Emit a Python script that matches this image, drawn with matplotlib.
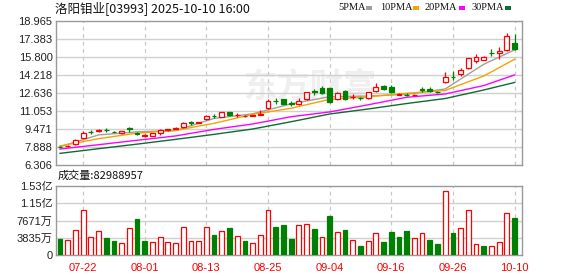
import matplotlib
matplotlib.use('Agg')
import matplotlib.pyplot as plt
from matplotlib.patches import Rectangle
import numpy as np

plt.rcParams['font.family'] = ['Liberation Sans', 'Noto Sans CJK SC', 'DejaVu Sans']

# ---------------- data ----------------
title = '洛阳钼业[03993] 2025-10-10 16:00'
vol_title = '成交量:82988957'
date_labels = ['07-22', '08-01', '08-13', '08-25', '09-04', '09-16', '09-26', '10-10']
date_index = [3, 11, 19, 27, 35, 43, 51, 59]

opens = [7.93, 7.96, 8.15, 8.71, 9.24, 9.27, 9.40, 9.24, 9.09, 9.52,
         9.14, 8.86, 8.88, 9.14, 9.35, 9.50, 9.62, 10.06, 10.02, 10.32,
         10.63, 10.55, 10.96, 10.68, 10.60, 10.60, 10.74, 11.29, 11.96, 12.08,
         11.75, 11.64, 12.11, 12.80, 13.05, 13.07, 12.11, 12.81, 12.30, 12.19,
         12.17, 12.78, 13.28, 13.19, 12.49, 12.50, 12.43, 12.95, 13.01, 12.76,
         13.63, 14.08, 14.28, 14.81, 15.42, 15.56, 16.15, 16.13, 16.42, 17.06]
closes = [7.90, 8.00, 8.50, 9.15, 9.20, 9.42, 9.36, 9.20, 9.30, 9.48,
          9.00, 8.90, 9.09, 9.41, 9.47, 9.53, 10.02, 10.03, 10.06, 10.64,
          10.60, 10.99, 10.67, 10.72, 10.64, 10.70, 10.80, 11.96, 11.90, 11.67,
          11.70, 11.96, 12.70, 12.75, 12.61, 11.87, 12.61, 12.08, 12.32, 12.17,
          12.70, 13.19, 12.96, 12.72, 12.53, 12.45, 12.48, 12.93, 12.78, 12.70,
          14.01, 14.04, 14.66, 15.69, 15.80, 15.80, 16.12, 16.35, 17.65, 16.47]
highs = [8.00, 8.05, 8.55, 9.27, 9.38, 9.45, 9.56, 9.27, 9.33, 9.65,
         9.23, 8.99, 9.12, 9.50, 9.50, 9.62, 10.08, 10.17, 10.10, 10.67,
         10.80, 11.00, 10.99, 10.90, 10.70, 10.72, 11.14, 12.10, 12.22, 12.10,
         11.93, 12.20, 12.75, 13.01, 13.25, 13.10, 12.70, 12.90, 12.55, 12.25,
         12.72, 13.49, 13.35, 13.35, 12.66, 12.60, 12.55, 13.16, 13.20, 12.80,
         14.51, 14.56, 14.86, 15.75, 16.04, 15.90, 16.48, 16.67, 17.94, 17.85]
lows = [7.85, 7.92, 8.10, 8.68, 9.06, 9.25, 9.23, 9.18, 9.06, 9.23,
        8.95, 8.74, 8.85, 8.94, 9.32, 9.45, 9.60, 9.78, 10.00, 10.30,
        10.44, 10.50, 10.64, 10.50, 10.55, 10.58, 10.70, 11.20, 11.67, 11.65,
        11.50, 11.60, 12.05, 12.49, 12.55, 11.80, 12.00, 12.00, 12.11, 12.05,
        12.10, 12.76, 12.90, 12.65, 12.44, 12.40, 12.35, 12.68, 12.70, 12.65,
        13.54, 13.80, 14.14, 14.75, 15.30, 15.50, 15.89, 15.60, 16.35, 16.40]

# volume in 万股 (last one is the exact value shown)
volumes = [3557, 3335, 5490, 9930, 3930, 5260, 3780, 3110, 2670, 5930,
           8000, 3110, 2890, 3930, 2890, 2670, 6150, 3110, 3110, 6150,
           4450, 5340, 6000, 4150, 3110, 2600, 4370, 9930, 6220, 6670,
           3560, 6600, 6820, 5780, 3930, 8670, 5110, 5560, 3260, 2000,
           3110, 4820, 2890, 5110, 3930, 5340, 3710, 4820, 3335, 2445,
           14160, 4890, 5930, 9930, 2380, 2000, 1930, 2820, 9270, 8298.8957]
# 1 = price up vs previous close (red), 0 = down (green)
vol_up = [0, 1, 1, 1, 1, 1, 0, 0, 1, 1,
          0, 0, 1, 1, 1, 1, 1, 1, 1, 1,
          0, 1, 0, 1, 0, 1, 1, 1, 0, 0,
          0, 1, 1, 0, 1, 0, 1, 0, 1, 0,
          1, 1, 0, 0, 0, 0, 1, 1, 0, 0,
          1, 0, 1, 1, 1, 0, 1, 1, 1, 0]

# moving averages at these candle positions
ma_index = [0, 5, 10, 15, 20, 25, 30, 35, 40, 45, 50, 55, 59]
ma5 = [7.91, 8.95, 9.22, 9.33, 10.40, 10.80, 11.68, 12.31, 12.37, 12.52, 12.99, 15.16, 16.42]
ma10 = [7.98, 8.62, 9.11, 9.35, 9.97, 10.76, 11.29, 12.08, 12.30, 12.61, 12.86, 14.13, 15.60]
ma20 = [7.71, 8.09, 8.48, 8.86, 9.44, 9.91, 10.55, 10.97, 11.60, 12.26, 12.55, 13.29, 14.22]
ma30 = [7.33, 7.74, 8.14, 8.56, 9.00, 9.47, 10.11, 10.79, 11.23, 11.71, 12.15, 12.90, 13.56]

price_ticks = [6.306, 7.888, 9.471, 11.053, 12.636, 14.218, 15.800, 17.383, 18.965]
price_labels = ['6.306', '7.888', '9.471', '11.053', '12.636', '14.218', '15.800', '17.383', '18.965']
vol_ticks = [0, 3835.5, 7671, 11506.5, 15342]
vol_labels = ['0', '3835万', '7671万', '1.15亿', '1.53亿']

# ---------------- style ----------------
RED = '#ff0000'
GREEN = '#008000'
FRAME = '#999999'
GRID = '#d0d0d0'
MA_COLORS = ['#a0a0a0', '#f5a300', '#ff00ff', '#0b6e2e']

W, H = 578, 276
fig = plt.figure(figsize=(W / 100, H / 100), dpi=100)


def fx(px):
    return px / W


def fy(py):
    return 1 - py / H


ax = fig.add_axes([fx(56), fy(165), (522 - 56) / W, (165 - 21) / H])
axv = fig.add_axes([fx(56), fy(255), (522 - 56) / W, (255 - 186) / H])

x = np.arange(len(opens))
o = np.array(opens)
c = np.array(closes)
up = c >= o
col = np.where(up, RED, GREEN)

# watermark
ax.text(0.545, 0.535, '东方财富', transform=ax.transAxes, ha='center', va='center',
        fontsize=24, fontweight='bold', color='#efefef', family='Noto Sans CJK SC', zorder=0.5)

# MA lines
for vals, cc in zip([ma5, ma10, ma20, ma30], MA_COLORS):
    ax.plot(ma_index, vals, color=cc, lw=1.0, zorder=2)

# candles
ax.vlines(x, lows, highs, colors=col, lw=0.9, zorder=3)
body_bot = np.minimum(o, c)
body_h = np.maximum(np.abs(c - o), 0.02)
ax.bar(x, body_h, bottom=body_bot, width=0.62, color=np.where(up, 'white', GREEN),
       edgecolor=col, linewidth=0.9, zorder=4)

# volume
vup = np.array(vol_up) == 1
axv.bar(x, volumes, width=0.62, color=np.where(vup, 'white', GREEN),
        edgecolor=np.where(vup, RED, GREEN), linewidth=0.9, zorder=3)

for a in (ax, axv):
    a.set_xlim(-0.52, 59.97)
    for s in a.spines.values():
        s.set_color(FRAME)
        s.set_linewidth(1.0)
    for xi in date_index:
        a.axvline(xi, color='#c8c8c8', lw=0.9, ls=(0, (3, 3)), zorder=1)
    a.tick_params(axis='both', length=0, pad=2.5, labelsize=8, colors='#222222')

ax.set_ylim(6.306, 18.965)
ax.set_yticks(price_ticks)
ax.set_yticklabels(price_labels)
ax.set_xticks([])
for t in price_ticks[1:-1]:
    ax.axhline(t, color=GRID, lw=1.0, zorder=1)

axv.set_ylim(0, 15342)
axv.set_yticks(vol_ticks)
axv.set_yticklabels(vol_labels)
for t in vol_ticks[1:-1]:
    axv.axhline(t, color=GRID, lw=1.0, zorder=1)
axv.set_xticks(date_index)
axv.set_xticklabels(date_labels)
axv.tick_params(axis='x', colors=RED, pad=5.5)

# header texts
fig.text(fx(55), fy(8), title, fontsize=9, va='center', ha='left', color='#111111',
         family=['Noto Sans CJK SC', 'DejaVu Sans'])
fig.text(fx(58), fy(176), vol_title, fontsize=8, va='center', ha='left', color='#111111',
         family=['Noto Sans CJK SC', 'DejaVu Sans'])

# legend
leg_items = [('5PMA', 338, 366), ('10PMA', 380, 413), ('20PMA', 425, 459), ('30PMA', 471, 505)]
for (name, tx, bx), cc in zip(leg_items, MA_COLORS):
    fig.text(fx(tx), fy(8), name, fontsize=7.5, va='center', ha='left', color='#111111',
             family='Liberation Serif')
    fig.patches.append(Rectangle((fx(bx), fy(10)), 6 / W, 4 / H, transform=fig.transFigure,
                                 facecolor=cc, edgecolor='none'))

fig.savefig('out.png', dpi=100)
